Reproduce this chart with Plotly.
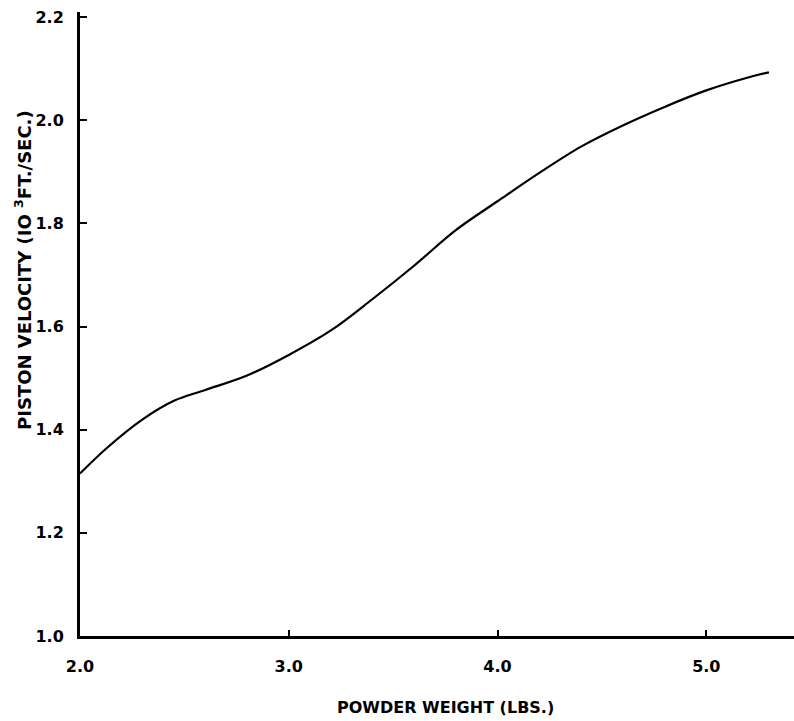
import plotly.graph_objects as go

powder_weight = [2.0, 2.13, 2.3, 2.45, 2.6, 2.8, 3.0, 3.2, 3.4, 3.6, 3.8, 4.0, 4.2, 4.4, 4.6, 4.8, 5.0, 5.2, 5.3]
piston_velocity = [1.315, 1.365, 1.42, 1.456, 1.477, 1.505, 1.545, 1.592, 1.653, 1.718, 1.787, 1.843, 1.898, 1.949, 1.990, 2.026, 2.058, 2.083, 2.093]

x_ticks = [2.0, 3.0, 4.0, 5.0]
x_tick_labels = ["2.0", "3.0", "4.0", "5.0"]
y_ticks = [1.0, 1.2, 1.4, 1.6, 1.8, 2.0, 2.2]
y_tick_labels = ["1.0", "1.2", "1.4", "1.6", "1.8", "2.0", "2.2"]

FONT = "DejaVu Sans, Verdana, sans-serif"

W, H = 794, 721
ml, mr, mt, mb = 80, 0, 12, 85
pw, ph = W - ml - mr, H - mt - mb


def px_to_paper(px, py):
    return (px - ml) / pw, (H - mb - py) / ph


fig = go.Figure()
fig.add_trace(go.Scatter(
    x=powder_weight, y=piston_velocity, mode="lines",
    line=dict(color="black", width=2.2, shape="spline", smoothing=1.0),
    showlegend=False, hoverinfo="skip",
))

xt_x, xt_y = px_to_paper(445, 707)
yt_x, yt_y = px_to_paper(23, 270)

fig.update_layout(
    width=W, height=H,
    margin=dict(l=ml, r=mr, t=mt, b=mb),
    paper_bgcolor="white", plot_bgcolor="white",
    font=dict(family=FONT, size=15, color="black"),
    xaxis=dict(
        range=[2.0, 5.42], showgrid=False, zeroline=False,
        showline=True, linecolor="black", linewidth=3,
        ticks="inside", ticklen=6, tickwidth=1.5, tickcolor="black",
        tickvals=x_ticks, ticktext=x_tick_labels,
        tickfont=dict(family=FONT, size=16, color="black", weight="bold"),
        ticklabelstandoff=14,
    ),
    yaxis=dict(
        range=[1.0, 2.21], showgrid=False, zeroline=False,
        showline=True, linecolor="black", linewidth=3,
        ticks="inside", ticklen=7, tickwidth=1.5, tickcolor="black",
        tickvals=y_ticks, ticktext=y_tick_labels,
        tickfont=dict(family=FONT, size=16, color="black", weight="bold"),
        ticklabelstandoff=10,
    ),
    annotations=[
        dict(text="POWDER WEIGHT (LBS.)", x=xt_x, y=xt_y, xref="paper", yref="paper",
             xanchor="center", yanchor="middle",
             showarrow=False, font=dict(family=FONT, size=16, color="black", weight="bold")),
        dict(text="PISTON VELOCITY (IO <sup>3</sup>FT./SEC.)", x=yt_x, y=yt_y,
             xref="paper", yref="paper", textangle=-90,
             xanchor="center", yanchor="middle",
             showarrow=False, font=dict(family=FONT, size=18, color="black", weight="bold")),
    ],
)

fig.write_html("out.html")
